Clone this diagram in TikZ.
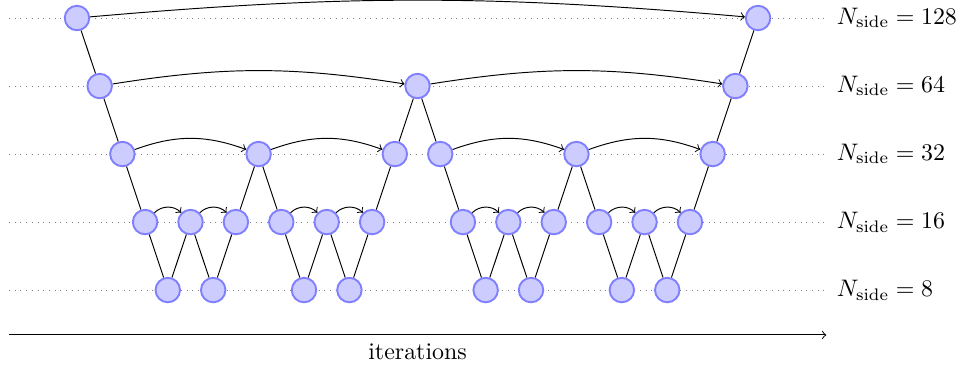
\documentclass[tikz,border=0pt]{standalone}
\usepackage{amsmath}
\usetikzlibrary{positioning,calc}

\begin{document}
\begin{tikzpicture}[
    level/.style={circle, draw=blue!50, fill=blue!20, thick, minimum size=0.36cm, inner sep=0pt},
    guide/.style={dotted, gray},
    hop/.style={->}
]
    \useasboundingbox (0,0.265) rectangle (14.13,-5.176);
    % one dotted line per resolution
    \foreach \r/\n in {0/128,1/64,2/32,3/16,4/8} {
        \draw[guide] (0.13,-\r) -- (12.13,-\r) coordinate (g\r);
        \node[right=0.05cm of g\r] (lab\r) {$N_{\mathrm{side}} = \n$};
    }
    % order in which the resolutions are visited
    \foreach \l [count=\i from 0] in {0,1,2,3,4,3,4,3,2,3,4,3,4,3,2,1,2,3,4,3,4,3,2,3,4,3,4,3,2,1,0}
        \node[level] (n\i) at ({1.132+0.3338*\i},-\l) {};
    \foreach \i [count=\j from 0] in {1,...,30}
        \draw (n\j) -- (n\i);
    % jumps on the same level
    \foreach \a/\b/\ang in {0/30/5, 1/15/9, 15/29/9, 2/8/20, 8/14/20, 16/22/20, 22/28/20,
        3/5/45, 5/7/45, 9/11/45, 11/13/45, 17/19/45, 19/21/45, 23/25/45, 25/27/45}
        \draw[hop] (n\a) to[bend left=\ang] (n\b);
    % time axis
    \coordinate (t0) at (0.13,-4.66);
    \coordinate (t1) at (12.15,-4.66);
    \draw[->] (t0) -- (t1) node[midway, below] (axis) {iterations};
\end{tikzpicture}
\end{document}
